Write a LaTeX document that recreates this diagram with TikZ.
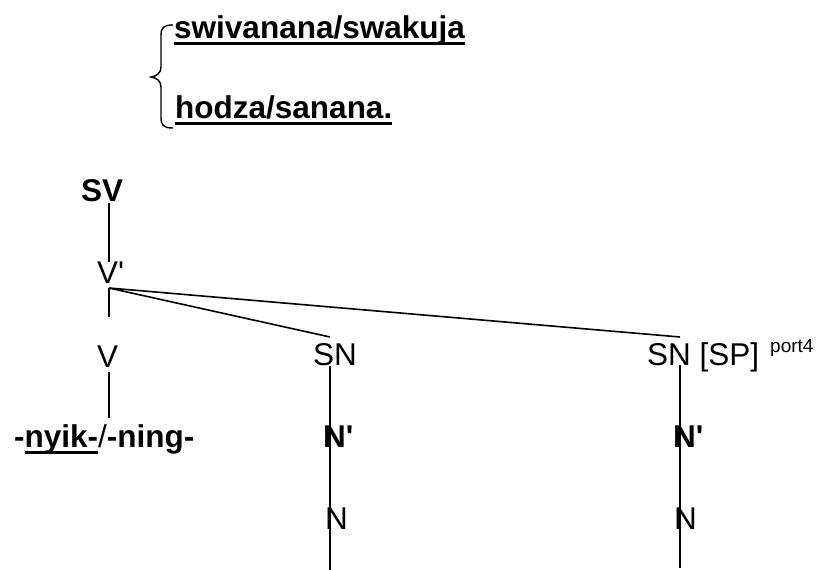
\documentclass[tikz,border=0pt]{standalone}
\usepackage{fontspec}
\setmainfont{Liberation Sans}[Ligatures=TeXOff]
\newsavebox\ulbox
\newcommand\myul[1]{\sbox\ulbox{#1}\rlap{\rule[-6.5pt]{\wd\ulbox}{3pt}}\usebox\ulbox}
\begin{document}
\begin{tikzpicture}[x=1pt,y=-1pt,
  lbl/.style={inner sep=0pt, anchor=base west, font=\fontsize{31.5}{36}\selectfont},
  blbl/.style={inner sep=0pt, anchor=base west, font=\fontsize{31.5}{36}\selectfont\bfseries},
  suplbl/.style={inner sep=0pt, anchor=base west, font=\fontsize{19}{22}\selectfont},
  edge/.style={line width=1.6pt},
  bracestyle/.style={line width=1.4pt}]
\useasboundingbox (0,0) rectangle (819,570);

% top alternatives with brace
\node[blbl] (t1) at (174,38) {\myul{swivanana/swakuja}};
\node[blbl] (t2) at (175,118) {\myul{hodza/sanana.}};
\draw[bracestyle] (173,25) .. controls (163,25) and (161,28) .. (161,36)
  -- (161,67) .. controls (161,73) and (157,76) .. (151,77)
  .. controls (157,78) and (161,81) .. (161,87)
  -- (161,117) .. controls (161,125) and (163,128) .. (173,128);

% tree labels
\node[blbl] (SV) at (81,201) {SV};
\node[lbl] (Vb) at (97,283) {V'};
\node[lbl] (V) at (97,367) {V};
\node[lbl] (morph) at (14,447) {\textbf{-\myul{nyik-}}/\textbf{-ning-}};
\node[lbl] (SN1) at (313,365) {SN};
\node[lbl] (SN2) at (647,365) {SN [SP]};
\node[suplbl] (port) at (770,352) {port4};
\node[blbl] (Np1) at (323,447) {N'};
\node[lbl] (N1) at (325,529) {N};
\node[blbl] (Np2) at (673,447) {N'};
\node[lbl] (N2) at (674,529) {N};

% connector end points
\coordinate (sv-foot) at (109,203);
\coordinate (vb-head) at (109,262);
\coordinate (vb-foot) at (109,288);
\coordinate (v-head) at (109,317);
\coordinate (v-foot) at (109,372);
\coordinate (morph-head) at (109,418);
\coordinate (sn1-head) at (330,337);
\coordinate (sn1-foot) at (330,366);
\coordinate (end1) at (330,570);
\coordinate (sn2-head) at (680,337);
\coordinate (sn2-foot) at (680,365);
\coordinate (end2) at (680,568);

% connectors
\draw[edge] (sv-foot) -- (vb-head);
\draw[edge] (vb-foot) -- (v-head);
\draw[edge] (v-foot) -- (morph-head);
\draw[edge] (vb-foot) -- (sn1-head);
\draw[edge] (vb-foot) -- (sn2-head);
\draw[edge] (sn1-foot) -- (end1);
\draw[edge] (sn2-foot) -- (end2);
\end{tikzpicture}
\end{document}
